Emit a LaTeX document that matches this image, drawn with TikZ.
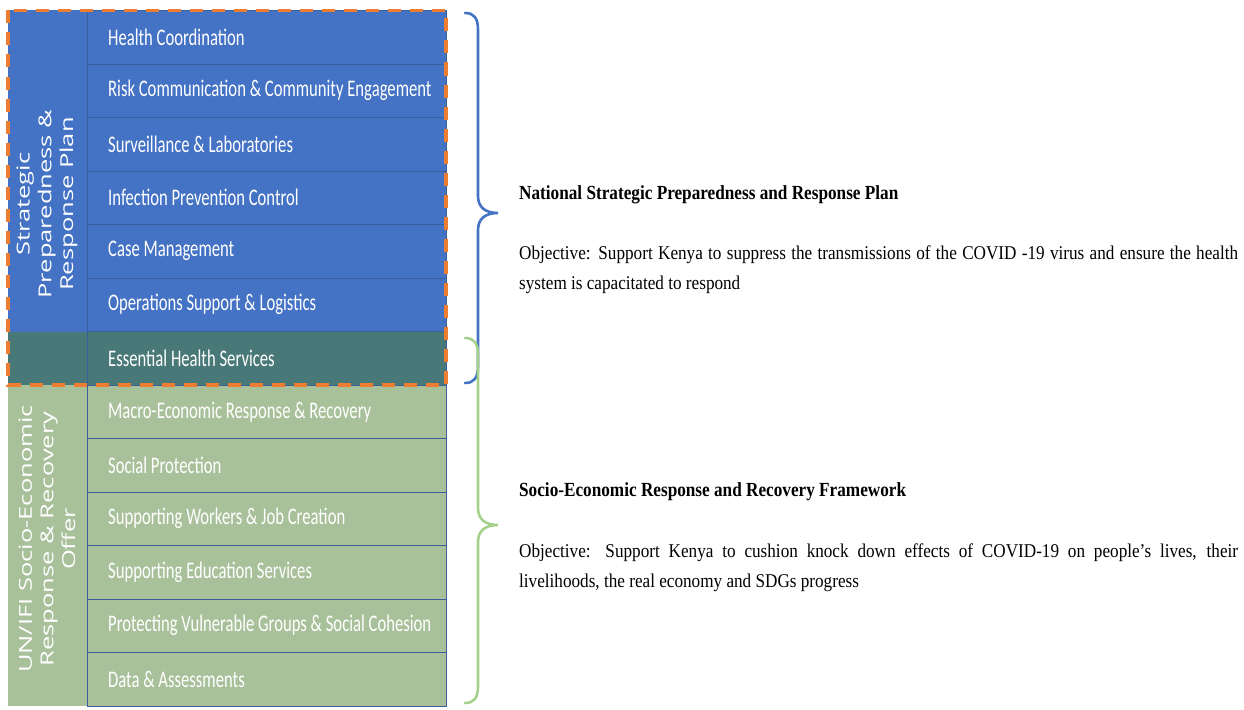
\documentclass[tikz,border=0pt]{standalone}
\usepackage{fontspec}
\newfontfamily\carlito{Carlito}
\newfontfamily\opensans{Open Sans}
\newfontfamily\tnr{Liberation Serif}
\definecolor{planblue}{HTML}{4472C4}
\definecolor{ehsteal}{HTML}{497878}
\definecolor{seogreen}{HTML}{A9C19B}
\definecolor{rowedge}{HTML}{3B5F9C}
\definecolor{dashorange}{HTML}{ED7D31}
\definecolor{bracegreen}{HTML}{A6D18C}

\begin{document}
\begin{tikzpicture}[x=1pt,y=-1pt,
    rowline/.style={draw=rowedge,line width=0.8pt},
    rowtext/.style={anchor=west,text=white,inner sep=0pt,xscale=0.7,%
      font=\carlito\fontsize{23.8}{28}\selectfont},
    sidelabel/.style={xscale=0.7,rotate=90,align=center,text=white,inner sep=0pt,%
      font=\opensans\fontsize{25.5}{31}\selectfont},
    headtext/.style={anchor=west,inner sep=0pt,xscale=0.86,%
      font=\tnr\bfseries\fontsize{20}{24}\selectfont},
    objtext/.style={anchor=north west,inner sep=0pt,xscale=0.88,align=left,%
      font=\tnr\fontsize{19.5}{30}\selectfont},
    bracepath/.style={line width=2.6pt,line cap=round}]
      \useasboundingbox (0,0) rectangle (1244,709) ;
      % left column
      \fill[planblue] (8,10.5) rectangle (87,331.5) ;
      \fill[ehsteal] (8,331.5) rectangle (87,385) ;
      \fill[seogreen] (8,385) rectangle (87,706) ;
      % rows
      \foreach \i/\txt/\col in {1/Health Coordination/planblue,%
        2/Risk Communication \& Community Engagement/planblue,%
        3/Surveillance \& Laboratories/planblue,%
        4/Infection Prevention Control/planblue,%
        5/Case Management/planblue,%
        6/Operations Support \& Logistics/planblue,%
        7/Essential Health Services/ehsteal,%
        8/Macro-Economic Response \& Recovery/seogreen,%
        9/Social Protection/seogreen,%
        10/Supporting Workers \& Job Creation/seogreen,%
        11/Supporting Education Services/seogreen,%
        12/Protecting Vulnerable Groups \& Social Cohesion/seogreen,%
        13/Data \& Assessments/seogreen}
      {
        \draw[rowline,fill=\col] (87,{10.5+53.5*(\i-1)}) rectangle (446,{10.5+53.5*\i}) ;
        \node[rowtext] (row\i) at (108,{10.5+53.5*(\i-0.5)}) {\txt} ;
      }
      \node[sidelabel] (sprp) at (47,204) {Strategic\\Preparedness \&\\Response Plan} ;
      \node[sidelabel] (serr) at (47,539) {UN/IFI Socio-Economic\\Response \& Recovery\\Offer} ;
      % dashed frame round the health part
      \draw[dashorange,line width=3.8pt,dash pattern=on 13pt off 9pt] %
        (8,10.5) rectangle (446,385) ;
      % braces
      \draw[bracepath,planblue] (465,13) .. controls (474,13) and (478,18) .. (478,30) %
        -- (478,196) .. controls (478,207) and (485,213) .. (498,213) %
        .. controls (485,213) and (478,219) .. (478,230) %
        -- (478,366) .. controls (478,378) and (474,383) .. (465,383) ;
      \draw[bracepath,bracegreen] (465,338) .. controls (474,338) and (478,343) .. (478,355) %
        -- (478,508) .. controls (478,519) and (485,525) .. (498,525) %
        .. controls (485,525) and (478,531) .. (478,542) %
        -- (478,686) .. controls (478,698) and (474,703) .. (465,703) ;
      % texts on the right
      \node[headtext] (nsprp) at (519,195) {National Strategic Preparedness and Response Plan} ;
      \node[objtext] (obj1) at (519,246) {\hbox to 817pt{Objective: Support Kenya to suppress the transmissions of the COVID -19 virus and ensure the health}\\system is capacitated to respond} ;
      \node[headtext] (serrf) at (519,492) {Socio-Economic Response and Recovery Framework} ;
      \node[objtext] (obj2) at (519,544) {\hbox to 817pt{Objective: Support Kenya to cushion knock down effects of COVID-19 on people’s lives, their}\\livelihoods, the real economy and SDGs progress} ;
\end{tikzpicture}
\end{document}
